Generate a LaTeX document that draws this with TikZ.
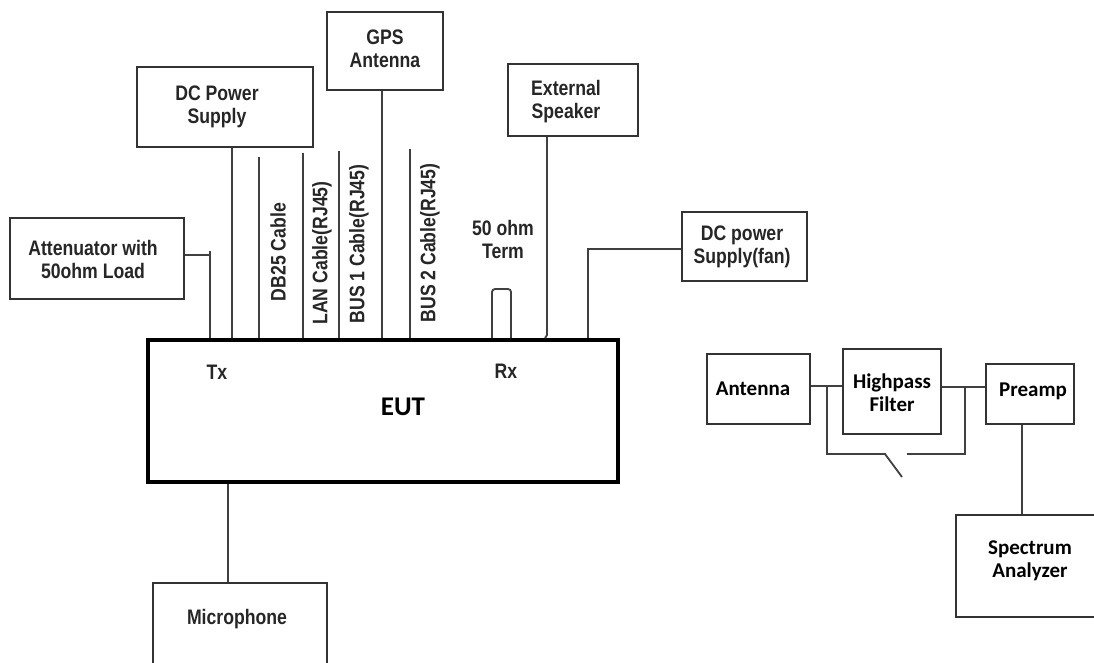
\documentclass[tikz,border=0pt]{standalone}
\usepackage{fontspec}
\newfontfamily\nf{Liberation Sans}[FakeStretch=0.84]
\newfontfamily\cf{Carlito}
\begin{document}
\begin{tikzpicture}[x=1pt,y=-1pt,
  box/.style={draw=black!80, line width=1.8pt, rectangle, inner sep=0pt},
  wire/.style={draw=black!75, line width=1.8pt},
  lbl/.style={font=\nf\bfseries\fontsize{21}{23}\selectfont, align=center, text=black!85, inner sep=0pt},
  rlbl/.style={font=\cf\bfseries\fontsize{21}{23}\selectfont, align=center, text=black, inner sep=0pt}]
\fill[white] (0,0) rectangle (1094,662);
\useasboundingbox (0,0) rectangle (1094,662);

% boxes
\node[box, minimum width=174pt, minimum height=81pt] (att) at (97,258.5) {};
\node[lbl] (attT) at (93,259) {Attenuator with\\50ohm Load};
\node[box, minimum width=176pt, minimum height=80pt] (dcps) at (225,107) {};
\node[lbl] (dcpsT) at (217,107) {DC Power\\Supply};
\node[box, minimum width=116pt, minimum height=78pt] (gps) at (385,51) {};
\node[lbl] (gpsT) at (385,49) {GPS\\Antenna};
\node[box, minimum width=130pt, minimum height=72pt] (spk) at (573,100) {};
\node[lbl] (spkT) at (566,102) {External\\Speaker};
\node[box, minimum width=125pt, minimum height=69pt] (fan) at (744.5,246.5) {};
\node[lbl] (fanT) at (742,247) {DC power\\Supply(fan)};
\node[box, minimum width=174pt, minimum height=100pt] (mic) at (240,633) {};
\node[lbl] (micT) at (237,619) {Microphone};

\node[draw=black, line width=4pt, rectangle, minimum width=470pt, minimum height=142pt, inner sep=0pt] (eut) at (383,411) {};
\node[rlbl, font=\cf\bfseries\fontsize{27}{30}\selectfont] (eutT) at (403,407) {EUT};
\node[lbl] (tx) at (217,372) {Tx};
\node[lbl] (rx) at (506,371) {Rx};

\node[box, minimum width=103pt, minimum height=70pt] (ant) at (758.5,389) {};
\node[rlbl] (antT) at (753,389) {Antenna};
\node[box, minimum width=98pt, minimum height=85pt] (hp) at (892,391.5) {};
\node[rlbl] (hpT) at (892,393) {Highpass\\Filter};
\node[box, minimum width=88pt, minimum height=60pt] (pre) at (1030,394) {};
\node[rlbl] (preT) at (1033,391) {Preamp};
\node[box, minimum width=150pt, minimum height=102pt] (spec) at (1031,566) {};
\node[rlbl] (specT) at (1030,561) {Spectrum\\Analyzer};

% cable labels
\node[lbl, rotate=90] (db25) at (278,252) {DB25 Cable};
\node[lbl, rotate=90] (lan) at (322,253) {LAN Cable(RJ45)};
\node[lbl, rotate=90] (bus1) at (359,244) {BUS 1 Cable(RJ45)};
\node[lbl, rotate=90] (bus2) at (430,243) {BUS 2 Cable(RJ45)};
\node[lbl] (term) at (503,239) {50 ohm\\Term};

% coordinates
\coordinate (attj) at (210,255);
\coordinate (attt) at (210,251);
\coordinate (dbt) at (259,157);
\coordinate (lant) at (303,153);
\coordinate (b1t) at (339,151);
\coordinate (b2t) at (410,149);
\coordinate (spkb) at (547,335);
\coordinate (fanj) at (588,249);
\coordinate (j1) at (827,386);
\coordinate (j1b) at (827,454);
\coordinate (swa) at (885,454);
\coordinate (swb) at (902,477);
\coordinate (swc) at (907,454);
\coordinate (j2b) at (965,454);
\coordinate (j2) at (965,387);

% wires to EUT
\draw[wire] (att.east |- attj) -- (attj);
\draw[wire] (attt) -- (attt |- eut.north);
\draw[wire] (dcps.south -| 232,0) -- (eut.north -| 232,0);
\draw[wire] (dbt) -- (dbt |- eut.north);
\draw[wire] (lant) -- (lant |- eut.north);
\draw[wire] (b1t) -- (b1t |- eut.north);
\draw[wire] (gps.south -| 382,0) -- (eut.north -| 382,0);
\draw[wire] (b2t) -- (b2t |- eut.north);
\draw[wire] (spk.south -| spkb) -- (spkb) -- (eut.north -| 545,0);
\draw[wire] (fan.west |- fanj) -- (fanj) -- (fanj |- eut.north);
\draw[wire, rounded corners=3pt] (eut.north -| 492,0) -- (492,289) -- (511,289) -- (eut.north -| 511,0);
\draw[wire] (eut.south -| 228,0) -- (mic.north -| 228,0);

% RF chain
\draw[wire] (ant.east |- j1) -- (hp.west |- j1);
\draw[wire] (j1) -- (j1b) -- (swa) -- (swb);
\draw[wire] (swc) -- (j2b) -- (j2);
\draw[wire] (hp.east |- j2) -- (pre.west |- j2);
\draw[wire] (pre.south -| 1022,0) -- (spec.north -| 1022,0);
\end{tikzpicture}
\end{document}
